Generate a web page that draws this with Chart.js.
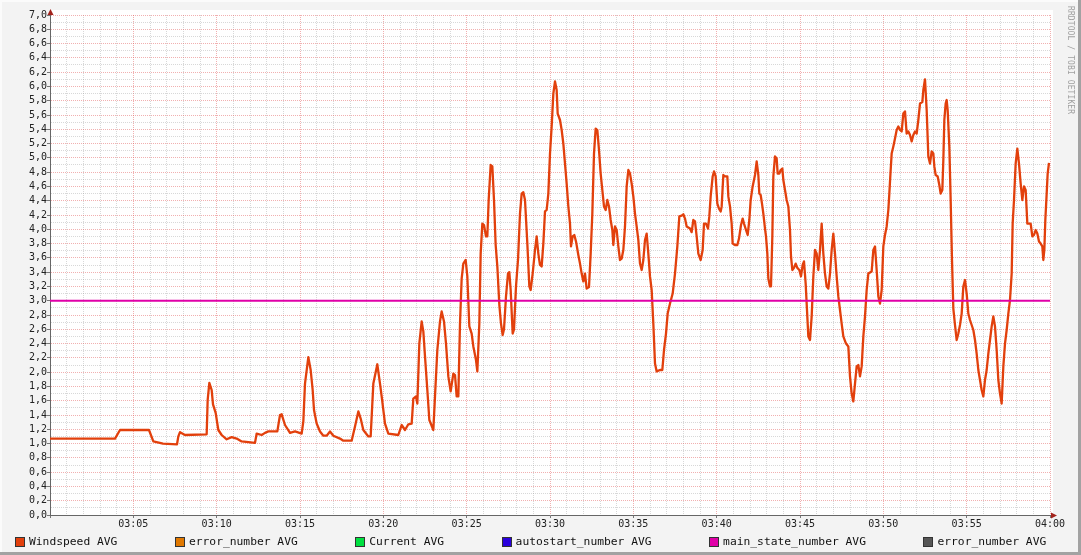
<!DOCTYPE html>
<html>
<head>
<meta charset="utf-8">
<script src="https://cdn.jsdelivr.net/npm/chart.js@4.4.0/dist/chart.umd.min.js"></script>
<style>
  html, body { margin: 0; padding: 0; background: #f3f3f3; }
  #wrap { position: relative; width: 1081px; height: 555px; overflow: hidden; background: #f3f3f3; }
  #chart { position: absolute; left: 0; top: 0; }
  .edge { position: absolute; }
  .edge.l { left: 0; top: 0; width: 2px; height: 555px; background: #fbfbfb; }
  .edge.t { left: 0; top: 0; width: 1081px; height: 2px; background: #fbfbfb; }
  .edge.r { right: 0; top: 0; width: 3px; height: 555px; background: #a2a2a2; }
  .edge.b { left: 0; bottom: 0; width: 1081px; height: 3px; background: #a2a2a2; }
  #credit {
    position: absolute; left: 1066px; top: 6px;
    writing-mode: vertical-rl;
    font: 8px "DejaVu Sans Mono", monospace; color: #a0a0a0; letter-spacing: 0.1px;
  }
  #legend { position: absolute; left: 0; top: 534px; width: 1081px; }
  #legend ul { list-style: none; margin: 0; padding: 0 0 0 15px; display: flex; justify-content: flex-start; gap: 57.5px; }
  #legend li { display: flex; align-items: center; font: 11.3px "DejaVu Sans Mono", monospace; color: #111; line-height: 15px; white-space: pre; }
  #legend span { display: inline-block; width: 8px; height: 8px; border: 1px solid #333; margin-right: 4px; }
</style>
</head>
<body>
<div id="wrap">
  <canvas id="chart" width="1081" height="555"></canvas>
  <div class="edge l"></div><div class="edge t"></div>
  <div class="edge r"></div><div class="edge b"></div>
  <div id="credit">RRDTOOL / TOBI OETIKER</div>
  <div id="legend"></div>
</div>
<script>
// minutes after 03:00
const windTimes = [
  0, 3.9, 4.2, 5.94, 6.2, 6.78, 7.62, 7.7, 7.8, 8.1,
  9.4, 9.46, 9.56, 9.7, 9.78, 9.94, 10.1, 10.3, 10.6, 10.9,
  11.2, 11.5, 12.3, 12.4, 12.7, 12.9, 13.1, 13.64, 13.8, 13.9,
  14.1, 14.4, 14.7, 15.1, 15.2, 15.3, 15.5, 15.64, 15.76, 15.84,
  16.0, 16.2, 16.4, 16.6, 16.8, 17.0, 17.4, 17.6, 18.1, 18.3,
  18.5, 18.64, 18.8, 19.1, 19.24, 19.4, 19.64, 19.8, 19.9, 20.1,
  20.3, 20.9, 21.1, 21.3, 21.5, 21.7, 21.8, 21.96, 22.04, 22.16,
  22.3, 22.4, 22.5, 22.64, 22.76, 23.0, 23.1, 23.24, 23.4, 23.5,
  23.64, 23.76, 23.9, 24.04, 24.2, 24.3, 24.4, 24.5, 24.6, 24.7,
  24.8, 24.94, 25.04, 25.16, 25.3, 25.4, 25.56, 25.64, 25.76, 25.84,
  25.94, 26.04, 26.16, 26.24, 26.32, 26.44, 26.54, 26.64, 26.74, 26.84,
  26.96, 27.06, 27.16, 27.24, 27.36, 27.48, 27.56, 27.64, 27.76, 27.84,
  27.96, 28.08, 28.2, 28.3, 28.4, 28.5, 28.64, 28.76, 28.84, 28.96,
  29.1, 29.2, 29.3, 29.4, 29.5, 29.6, 29.7, 29.8, 29.9, 30.0,
  30.1, 30.2, 30.3, 30.4, 30.46, 30.6, 30.7, 30.8, 30.9, 31.0,
  31.1, 31.2, 31.26, 31.36, 31.46, 31.56, 31.7, 31.8, 31.9, 32.0,
  32.1, 32.2, 32.34, 32.44, 32.54, 32.64, 32.74, 32.84, 32.94, 33.04,
  33.14, 33.24, 33.34, 33.44, 33.54, 33.64, 33.74, 33.8, 33.9, 34.0,
  34.1, 34.2, 34.3, 34.4, 34.5, 34.6, 34.7, 34.8, 34.9, 35.0,
  35.1, 35.2, 35.3, 35.4, 35.5, 35.6, 35.7, 35.8, 35.9, 36.0,
  36.1, 36.2, 36.3, 36.4, 36.6, 36.74, 36.84, 36.96, 37.06, 37.2,
  37.36, 37.5, 37.64, 37.76, 37.9, 38.0, 38.1, 38.2, 38.4, 38.5,
  38.6, 38.7, 38.8, 38.9, 39.04, 39.16, 39.24, 39.36, 39.48, 39.56,
  39.64, 39.76, 39.84, 39.94, 40.04, 40.14, 40.24, 40.3, 40.4, 40.5,
  40.64, 40.7, 40.8, 40.9, 40.96, 41.1, 41.24, 41.34, 41.46, 41.56,
  41.64, 41.76, 41.86, 41.96, 42.04, 42.16, 42.3, 42.4, 42.5, 42.56,
  42.64, 42.72, 42.8, 42.9, 42.96, 43.04, 43.1, 43.2, 43.26, 43.34,
  43.4, 43.5, 43.6, 43.66, 43.76, 43.84, 43.94, 44.0, 44.1, 44.2,
  44.3, 44.4, 44.46, 44.54, 44.64, 44.74, 44.84, 44.96, 45.06, 45.16,
  45.24, 45.34, 45.4, 45.5, 45.6, 45.7, 45.8, 45.9, 46.0, 46.1,
  46.2, 46.3, 46.4, 46.5, 46.6, 46.7, 46.8, 46.9, 47.0, 47.1,
  47.2, 47.3, 47.4, 47.5, 47.6, 47.76, 47.9, 48.0, 48.1, 48.2,
  48.3, 48.4, 48.5, 48.6, 48.7, 48.8, 48.9, 49.0, 49.1, 49.3,
  49.4, 49.5, 49.6, 49.7, 49.8, 49.9, 50.0, 50.1, 50.2, 50.3,
  50.36, 50.44, 50.5, 50.6, 50.7, 50.8, 50.9, 51.0, 51.1, 51.2,
  51.3, 51.4, 51.5, 51.6, 51.7, 51.8, 51.9, 52.0, 52.1, 52.2,
  52.34, 52.4, 52.5, 52.6, 52.7, 52.8, 52.9, 53.0, 53.06, 53.14,
  53.26, 53.36, 53.44, 53.54, 53.6, 53.66, 53.74, 53.8, 53.86, 53.96,
  54.04, 54.12, 54.2, 54.3, 54.4, 54.5, 54.6, 54.7, 54.8, 54.9,
  55.0, 55.1, 55.2, 55.3, 55.4, 55.5, 55.6, 55.7, 55.8, 55.9,
  56.0, 56.1, 56.2, 56.3, 56.4, 56.5, 56.6, 56.7, 56.8, 56.9,
  57.0, 57.1, 57.2, 57.3, 57.4, 57.5, 57.6, 57.7, 57.76, 57.84,
  57.94, 58.04, 58.14, 58.24, 58.34, 58.44, 58.54, 58.64, 58.74, 58.84,
  58.94, 59.04, 59.14, 59.24, 59.34, 59.44, 59.54, 59.6, 59.66, 59.72,
  59.8, 59.86, 59.94
];

const windSpeed = [
  1.07, 1.07, 1.19, 1.19, 1.03, 1.00, 0.99, 1.10, 1.16, 1.12,
  1.13, 1.61, 1.85, 1.75, 1.55, 1.43, 1.19, 1.12, 1.06, 1.09,
  1.07, 1.03, 1.01, 1.14, 1.12, 1.15, 1.17, 1.17, 1.40, 1.41,
  1.26, 1.15, 1.17, 1.14, 1.31, 1.84, 2.21, 2.03, 1.75, 1.47,
  1.28, 1.17, 1.11, 1.11, 1.17, 1.11, 1.07, 1.04, 1.04, 1.24,
  1.45, 1.35, 1.19, 1.10, 1.10, 1.84, 2.11, 1.84, 1.66, 1.28,
  1.14, 1.12, 1.26, 1.19, 1.27, 1.28, 1.63, 1.66, 1.56, 2.40,
  2.71, 2.57, 2.22, 1.75, 1.33, 1.19, 1.66, 2.31, 2.71, 2.85,
  2.71, 2.40, 1.94, 1.73, 1.98, 1.96, 1.66, 1.66, 2.68, 3.31,
  3.52, 3.57, 3.34, 2.64, 2.54, 2.36, 2.17, 2.01, 2.68, 3.66,
  4.08, 4.06, 3.90, 3.90, 4.41, 4.90, 4.88, 4.41, 3.78, 3.48,
  2.94, 2.68, 2.52, 2.60, 3.06, 3.38, 3.40, 3.15, 2.54, 2.60,
  3.20, 3.57, 4.22, 4.50, 4.52, 4.41, 3.80, 3.20, 3.15, 3.38,
  3.71, 3.90, 3.66, 3.50, 3.48, 3.80, 4.25, 4.27, 4.50, 5.06,
  5.44, 5.90, 6.07, 5.95, 5.62, 5.53, 5.39, 5.20, 4.92, 4.64,
  4.32, 4.08, 3.76, 3.90, 3.92, 3.83, 3.64, 3.52, 3.38, 3.27,
  3.38, 3.17, 3.19, 3.66, 4.22, 5.06, 5.41, 5.39, 5.11, 4.78,
  4.55, 4.32, 4.27, 4.41, 4.32, 4.13, 3.99, 3.78, 4.04, 3.99,
  3.76, 3.57, 3.59, 3.71, 4.04, 4.60, 4.83, 4.78, 4.64, 4.46,
  4.22, 4.04, 3.85, 3.52, 3.43, 3.57, 3.85, 3.94, 3.66, 3.34,
  3.15, 2.68, 2.12, 2.01, 2.03, 2.03, 2.31, 2.54, 2.82, 2.96,
  3.10, 3.38, 3.76, 4.18, 4.19, 4.21, 4.15, 4.04, 4.01, 3.96,
  4.13, 4.11, 3.90, 3.66, 3.57, 3.71, 4.08, 4.08, 4.01, 4.18,
  4.46, 4.74, 4.81, 4.74, 4.36, 4.29, 4.25, 4.32, 4.76, 4.74,
  4.74, 4.46, 4.32, 4.08, 3.80, 3.78, 3.78, 3.87, 4.06, 4.15,
  4.08, 3.99, 3.92, 4.13, 4.41, 4.60, 4.76, 4.95, 4.76, 4.50,
  4.48, 4.36, 4.22, 4.01, 3.90, 3.66, 3.31, 3.20, 3.20, 3.90,
  4.74, 5.02, 4.99, 4.78, 4.78, 4.83, 4.85, 4.69, 4.55, 4.41,
  4.32, 3.99, 3.62, 3.43, 3.46, 3.52, 3.46, 3.43, 3.34, 3.50,
  3.55, 3.24, 2.96, 2.50, 2.45, 2.78, 3.34, 3.71, 3.66, 3.43,
  3.71, 4.08, 3.66, 3.38, 3.20, 3.17, 3.38, 3.71, 3.94, 3.66,
  3.34, 3.06, 2.87, 2.68, 2.50, 2.40, 2.36, 1.94, 1.70, 1.59,
  1.84, 2.08, 2.10, 1.94, 2.08, 2.50, 2.78, 3.15, 3.38, 3.41,
  3.71, 3.76, 3.43, 3.06, 2.96, 3.15, 3.76, 3.92, 4.04, 4.27,
  4.50, 4.83, 5.06, 5.16, 5.27, 5.39, 5.44, 5.39, 5.37, 5.62,
  5.65, 5.34, 5.37, 5.32, 5.23, 5.32, 5.37, 5.34, 5.53, 5.76,
  5.78, 5.95, 6.10, 5.67, 5.02, 4.92, 5.09, 5.06, 4.88, 4.76,
  4.74, 4.62, 4.50, 4.55, 4.97, 5.53, 5.76, 5.81, 5.67, 5.16,
  4.41, 3.57, 2.89, 2.66, 2.45, 2.54, 2.66, 2.82, 3.20, 3.29,
  3.10, 2.82, 2.73, 2.66, 2.59, 2.45, 2.26, 2.03, 1.89, 1.75,
  1.66, 1.89, 2.03, 2.26, 2.45, 2.64, 2.78, 2.64, 2.31, 1.89,
  1.70, 1.56, 2.08, 2.40, 2.59, 2.82, 3.01, 3.38, 4.08, 4.41,
  4.92, 5.13, 4.92, 4.64, 4.41, 4.60, 4.55, 4.08, 4.08, 4.08,
  3.90, 3.92, 3.99, 3.94, 3.83, 3.80, 3.76, 3.57, 3.71, 4.13,
  4.50, 4.78, 4.93
];

const mainStateTimes = [0, 60];
const mainState = [3, 3];

const seriesNames = ["Windspeed AVG", "error_number AVG", "Current AVG", "autostart_number AVG", "main_state_number AVG", "error_number AVG"];
const seriesColors = ["#e2400c", "#e07800", "#00e040", "#2a00dd", "#e000a8", "#555555"];

const yMin = 0, yMax = 7, yStep = 0.1;
const xMin = 0, xMax = 60, xStep = 1;

const toPoints = (xs, ys) => xs.map((x, i) => ({ x: x, y: ys[i] }));

function timeLabel(v) {
  const m = 180 + v;
  const hh = String(Math.floor(m / 60)).padStart(2, "0");
  const mm = String(m % 60).padStart(2, "0");
  return hh + ":" + mm;
}

const majorGrid = "rgba(225,80,80,0.45)";
const minorGrid = "rgba(140,140,140,0.34)";

// white plot area + red axis arrows
const rrdFrame = {
  id: "rrdFrame",
  beforeDraw(chart) {
    const { ctx, chartArea: a } = chart;
    ctx.save();
    ctx.fillStyle = "#ffffff";
    ctx.fillRect(a.left, a.top - 5, a.right - a.left + 3, a.bottom - a.top + 5);
    ctx.restore();
  },
  afterDraw(chart) {
    const { ctx, chartArea: a } = chart;
    ctx.save();
    ctx.fillStyle = "#a3231c";
    ctx.beginPath();
    ctx.moveTo(a.left + 0.5, a.top - 6);
    ctx.lineTo(a.left + 3.5, a.top);
    ctx.lineTo(a.left - 2.5, a.top);
    ctx.closePath();
    ctx.fill();
    ctx.beginPath();
    ctx.moveTo(a.right + 7, a.bottom + 0.5);
    ctx.lineTo(a.right + 1, a.bottom - 2.5);
    ctx.lineTo(a.right + 1, a.bottom + 3.5);
    ctx.closePath();
    ctx.fill();
    ctx.restore();
  }
};

const tickFont = { family: "DejaVu Sans Mono", size: 10 };

const chart = new Chart(document.getElementById("chart"), {
  type: "line",
  data: {
    datasets: [
      { label: seriesNames[0], data: toPoints(windTimes, windSpeed), borderColor: seriesColors[0], backgroundColor: seriesColors[0], borderWidth: 2.3, order: 2 },
      { label: seriesNames[1], data: [], borderColor: seriesColors[1], backgroundColor: seriesColors[1], order: 3 },
      { label: seriesNames[2], data: [], borderColor: seriesColors[2], backgroundColor: seriesColors[2], order: 4 },
      { label: seriesNames[3], data: [], borderColor: seriesColors[3], backgroundColor: seriesColors[3], order: 5 },
      { label: seriesNames[4], data: toPoints(mainStateTimes, mainState), borderColor: seriesColors[4], backgroundColor: seriesColors[4], borderWidth: 2, order: 1 },
      { label: seriesNames[5], data: [], borderColor: seriesColors[5], backgroundColor: seriesColors[5], order: 6 },
    ]
  },
  options: {
    responsive: false,
    animation: false,
    layout: { padding: { left: 0, top: 15, right: 31, bottom: 20 } },
    elements: {
      point: { radius: 0 },
      line: { tension: 0, borderJoinStyle: "round", fill: false }
    },
    plugins: {
      legend: { display: false },
      tooltip: { enabled: false }
    },
    scales: {
      x: {
        type: "linear",
        min: xMin,
        max: xMax,
        afterFit: (scale) => { scale.height = 20; },
        ticks: {
          stepSize: xStep,
          autoSkip: false,
          maxRotation: 0,
          maxTicksLimit: 100,
          padding: 0,
          color: "#222",
          font: tickFont,
          callback: (v) => (v % 5 === 0 && v > 0) ? timeLabel(v) : ""
        },
        grid: {
          color: (c) => c.tick.value === 0 ? "transparent" : (c.tick.value % 5 === 0 ? majorGrid : minorGrid),
          tickColor: (c) => c.tick.value % 5 === 0 ? "#777" : "transparent",
          tickLength: 3,
          lineWidth: 1
        },
        border: { color: "#666", width: 1, dash: [1, 1] }
      },
      y: {
        min: yMin,
        max: yMax,
        afterFit: (scale) => { scale.width = 50; },
        ticks: {
          stepSize: yStep,
          autoSkip: false,
          maxTicksLimit: 100,
          padding: 0,
          color: "#222",
          font: tickFont,
          callback: (v) => Math.round(v * 10) % 2 === 0 ? v.toFixed(1).replace(".", ",") : ""
        },
        grid: {
          color: (c) => Math.round(c.tick.value * 10) === 0 ? "transparent" : (Math.round(c.tick.value * 10) % 2 === 0 ? majorGrid : minorGrid),
          tickColor: (c) => Math.round(c.tick.value * 10) % 2 === 0 ? "#777" : "transparent",
          tickLength: 3,
          lineWidth: 1
        },
        border: { color: "#666", width: 1, dash: [1, 1] }
      }
    }
  },
  plugins: [rrdFrame]
});

// generate legend
function generateLegend() {
  const box = document.getElementById("legend");
  const ul = document.createElement("ul");
  chart.data.datasets.forEach((ds) => {
    const li = document.createElement("li");
    const span = document.createElement("span");
    span.style.backgroundColor = ds.borderColor;
    li.appendChild(span);
    li.appendChild(document.createTextNode(ds.label));
    ul.appendChild(li);
  });
  box.appendChild(ul);
}

generateLegend();
</script>
</body>
</html>
